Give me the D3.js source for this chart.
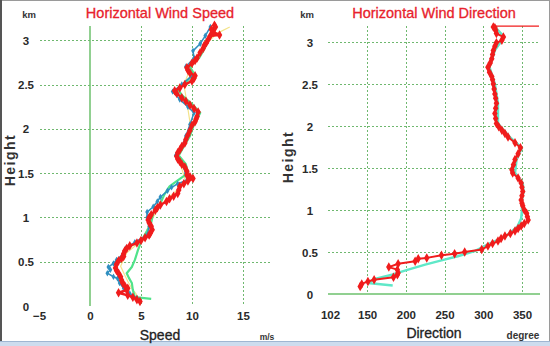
<!DOCTYPE html>
<html><head><meta charset="utf-8">
<script src="https://cdn.jsdelivr.net/npm/d3@7"></script>
<style>
html,body{margin:0;padding:0;background:#fff;}
svg{display:block;font-family:Arial,"Liberation Sans",sans-serif;}
</style></head>
<body>
<svg id="c" width="550" height="346"></svg>
<script>
// ---------- data ----------
const heightTicks = [0, 0.5, 1, 1.5, 2, 2.5, 3];
const speedTicks = [-5, 0, 5, 10, 15];
const dirTicks = [102, 150, 200, 250, 300, 350];

// Speed panel series: [height km, speed m/s]
const speedRed = [[0.05,4.9],[0.07,4.6],[0.10,4.2],[0.12,3.7],[0.15,2.8],[0.18,3.6],[0.20,3.7],[0.23,3.4],[0.26,3.2],[0.29,3.1],[0.33,3.0],[0.37,2.8],[0.40,2.6],[0.43,2.5],[0.47,2.6],[0.51,2.8],[0.54,3.1],[0.56,3.3],[0.59,3.3],[0.62,3.4],[0.65,3.6],[0.68,3.9],[0.71,4.6],[0.74,5.0],[0.77,5.4],[0.80,5.8],[0.82,5.9],[0.86,6.1],[0.90,6.0],[0.94,5.8],[0.97,5.7],[1.00,5.8],[1.03,6.0],[1.08,6.4],[1.11,6.6],[1.14,6.9],[1.18,7.5],[1.21,7.8],[1.24,8.2],[1.27,8.6],[1.31,8.7],[1.35,8.8],[1.38,9.2],[1.41,9.6],[1.44,10.1],[1.46,9.8],[1.48,9.5],[1.52,9.5],[1.57,9.3],[1.60,9.0],[1.63,8.8],[1.66,8.6],[1.69,8.5],[1.73,8.6],[1.76,8.8],[1.80,9.0],[1.84,9.3],[1.88,9.4],[1.93,9.6],[1.98,9.8],[2.04,10.0],[2.08,10.3],[2.11,10.4],[2.14,10.5],[2.19,10.6],[2.23,10.2],[2.27,9.8],[2.31,9.4],[2.35,9.0],[2.40,8.5],[2.43,8.3],[2.46,8.8],[2.50,9.3],[2.54,10.0],[2.57,10.2],[2.60,10.3],[2.63,9.8],[2.66,9.6],[2.69,9.5],[2.74,10.0],[2.77,10.3],[2.80,10.5],[2.86,10.8],[2.91,11.1],[2.94,11.2],[2.97,11.4],[3.01,11.6],[3.05,11.8],[3.06,12.7],[3.09,12.1],[3.12,11.9],[3.15,12.3],[3.17,12.2]];
const speedBlue = [[0.09,4.6],[0.14,3.9],[0.20,3.3],[0.26,2.9],[0.31,2.7],[0.33,2.3],[0.37,1.7],[0.41,2.0],[0.44,1.8],[0.48,2.3],[0.52,2.6],[0.58,3.2],[0.65,3.5],[0.72,4.4],[0.80,5.6],[0.90,5.8],[1.00,5.6],[1.06,5.6],[1.12,6.2],[1.18,6.6],[1.23,6.9],[1.30,7.6],[1.34,8.0],[1.38,8.6],[1.42,9.5],[1.50,9.4],[1.60,9.0],[1.70,8.4],[1.80,9.0],[1.92,9.4],[2.05,9.8],[2.18,10.2],[2.25,9.6],[2.33,8.8],[2.42,8.1],[2.50,9.0],[2.60,10.0],[2.70,9.4],[2.80,10.2],[2.88,10.1],[2.96,10.8],[3.05,11.3],[3.15,11.8]];
const speedGreen = [[0.08,6.0],[0.10,4.4],[0.18,4.2],[0.26,4.1],[0.32,3.8],[0.37,3.6],[0.44,4.1],[0.52,4.4],[0.63,4.7],[0.75,5.1],[0.85,5.6],[0.94,6.0],[1.05,6.2],[1.16,6.9],[1.26,7.3],[1.35,7.8],[1.41,8.5],[1.50,9.6],[1.60,9.4],[1.70,8.7],[1.80,9.2],[1.92,9.8],[2.05,10.2],[2.18,10.8],[2.28,10.0],[2.38,9.0],[2.45,8.6],[2.55,9.6],[2.62,10.2],[2.70,9.8],[2.80,10.7],[2.90,11.2],[3.00,11.6],[3.08,11.9],[3.15,12.4]];
const speedYellow = [[0.08,4.8],[0.14,4.5],[0.20,4.1],[0.28,3.7],[0.35,3.4],[0.45,3.0],[0.60,3.6],[0.75,5.2],[0.95,5.9],[1.15,7.0],[1.40,9.4],[1.70,8.6],[2.00,9.9],[2.30,9.5],[2.50,9.2],[2.75,10.1],[2.95,11.3],[3.08,12.5],[3.15,13.7]];

// Direction panel series: [height km, direction deg]
const dirRed = [[0.09,141],[0.12,143],[0.15,151],[0.17,159],[0.20,184],[0.23,189],[0.25,190],[0.29,189],[0.32,178],[0.36,190],[0.39,212],[0.42,216],[0.43,227],[0.46,246],[0.48,263],[0.50,276],[0.53,298],[0.57,306],[0.60,312],[0.63,319],[0.66,323],[0.69,328],[0.72,335],[0.75,341],[0.78,345],[0.81,349],[0.84,353],[0.88,358],[0.92,357],[0.96,356],[1.00,353],[1.05,351],[1.08,350],[1.12,349],[1.17,350],[1.22,351],[1.27,350],[1.32,349],[1.38,345],[1.44,338],[1.48,337],[1.54,339],[1.60,341],[1.67,345],[1.74,348],[1.80,341],[1.87,332],[1.91,328],[1.95,324],[1.99,320],[2.03,317],[2.09,316],[2.15,315],[2.21,316],[2.27,317],[2.33,316],[2.38,315],[2.44,314],[2.50,313],[2.55,312],[2.59,311],[2.64,308],[2.70,306],[2.75,309],[2.80,311],[2.85,312],[2.90,313],[2.95,315],[2.99,317],[3.02,324],[3.06,326],[3.10,317],[3.14,316],[3.17,315],[3.18,313]];
const dirCyan = [[0.10,183],[0.13,151],[0.18,160],[0.23,182],[0.29,203],[0.35,225],[0.40,246],[0.45,267],[0.51,289],[0.59,306],[0.65,320],[0.71,332],[0.80,344],[0.90,349],[1.00,350],[1.12,350],[1.22,352],[1.32,351],[1.44,341],[1.60,343],[1.74,350],[1.87,334],[2.03,319],[2.27,319],[2.50,315],[2.70,308],[2.90,315],[3.06,327],[3.18,315]];
const dirTopLine = [[3.19,315],[3.19,372]];

// ---------- drawing ----------
const svg = d3.select("#c");
const gridColor = "#6fb86f";
const red = "#f01c1c";

// frame
svg.append("rect").attr("x",0.5).attr("y",0.5).attr("width",549).attr("height",345).attr("fill","#fff").attr("stroke","#9a9a9a");
svg.append("rect").attr("x",0).attr("y",0).attr("width",2).attr("height",346).attr("fill","#555");
svg.append("rect").attr("x",0).attr("y",341).attr("width",550).attr("height",5).attr("fill","#cddcee");
svg.append("line").attr("x1",0).attr("x2",550).attr("y1",341.5).attr("y2",341.5).attr("stroke","#9fb6d2");

function panel(opts){
  const g = svg.append("g");
  const x = d3.scaleLinear().domain(opts.xDomain).range(opts.xRange);
  const y = d3.scaleLinear().domain([0,3.2]).range(opts.yRange);
  opts.hGrid.forEach(h=>{
    g.append("line").attr("x1",opts.gridX[0]).attr("x2",opts.gridX[1]).attr("y1",Math.round(y(h))+0.5).attr("y2",Math.round(y(h))+0.5)
      .attr("stroke",gridColor).attr("stroke-width",1).attr("stroke-dasharray","2,2");
  });
  opts.vGrid.forEach(v=>{
    g.append("line").attr("x1",Math.round(x(v))+0.5).attr("x2",Math.round(x(v))+0.5).attr("y1",opts.gridY[0]).attr("y2",opts.gridY[1])
      .attr("stroke",gridColor).attr("stroke-width",1).attr("stroke-dasharray","2,2");
  });
  const ya = d3.axisLeft(y).tickValues(heightTicks).tickSize(0).tickFormat(d3.format("~g"));
  const yg = g.append("g").attr("transform",`translate(${opts.yLabelX},0)`).call(ya);
  yg.select(".domain").remove();
  yg.selectAll("text").attr("text-anchor","middle").attr("x",0).attr("dy","0.35em")
    .attr("font-size",11.5).attr("font-weight","bold").attr("fill","#2a2a2a").attr("font-family","Arial,'Liberation Sans',sans-serif");
  const xa = d3.axisBottom(x).tickValues(opts.xTicks).tickSize(0).tickFormat(d3.format("d"));
  const xg = g.append("g").attr("transform",`translate(0,${opts.xLabelY})`).call(xa);
  xg.select(".domain").remove();
  xg.selectAll("text").attr("dy","0").attr("y",0).attr("font-size",11.5).attr("font-weight","bold").attr("fill","#2a2a2a")
    .attr("font-family","Arial,'Liberation Sans',sans-serif");
  return {g,x,y};
}

// Left panel
const L = panel({xDomain:[-5,17.5], xRange:[39,268.5], yRange:[306,22.5],
  hGrid:[0.5,1,1.5,2,2.5,3], vGrid:[5,10,15], gridX:[40,270], gridY:[26,306],
  yLabelX:26, xLabelY:320, xTicks:speedTicks});
L.g.append("line").attr("x1",L.x(0)).attr("x2",L.x(0)).attr("y1",26).attr("y2",306).attr("stroke","#6cc06c").attr("stroke-width",1.5);

// Right panel
const R = panel({xDomain:[102,372], xRange:[330,539], yRange:[294,25.2],
  hGrid:[0.5,1,1.5,2,2.5,3], vGrid:[150,200,250,300,350], gridX:[328,538], gridY:[26,294],
  yLabelX:310, xLabelY:319, xTicks:dirTicks});
R.g.append("line").attr("x1",328).attr("x2",540).attr("y1",R.y(0)).attr("y2",R.y(0)).attr("stroke","#6cc06c").attr("stroke-width",1.5);

function series(P, data, color, w, marker, msize){
  const line = d3.line().x(d=>P.x(d[1])).y(d=>P.y(d[0]));
  P.g.append("path").datum(data).attr("d",line).attr("fill","none").attr("stroke",color).attr("stroke-width",w).attr("stroke-linejoin","round");
  if(marker){
    P.g.selectAll(null).data(data).enter().append("path")
      .attr("d",d3.symbol().type(d3.symbolDiamond).size(msize))
      .attr("transform",d=>`translate(${P.x(d[1])},${P.y(d[0])})`).attr("fill",color);
  }
}
series(L, speedYellow, "#f3e38a", 1.2, false);
series(L, speedGreen, "#4fe38a", 2.2, false);
series(L, speedBlue, "#2f8fc0", 1.5, true, 12);
series(L, speedRed, red, 2.5, true, 26);

series(R, dirCyan, "#5fe8c8", 2.5, false);
series(R, dirTopLine, red, 1.2, false);
series(R, dirRed, red, 2, true, 26);

function txt(x,y,s,size,weight,fill,anchor){
  return svg.append("text").attr("x",x).attr("y",y).text(s).attr("font-size",size).attr("font-weight",weight)
    .attr("fill",fill).attr("text-anchor",anchor||"middle").attr("font-family","Arial,'Liberation Sans',sans-serif");
}
txt(160,18,"Horizontal Wind Speed",14.5,"normal","#e8222c").attr("stroke","#e8222c").attr("stroke-width",0.3);
txt(434,18,"Horizontal Wind Direction",14.5,"normal","#e8222c").attr("stroke","#e8222c").attr("stroke-width",0.3);
txt(29,18,"km",9.5,"bold","#333");
txt(307,18,"km",9.5,"bold","#333");
txt(160,340,"Speed",14,"normal","#222").attr("stroke","#222").attr("stroke-width",0.3);
txt(434,338,"Direction",14,"normal","#222").attr("stroke","#222").attr("stroke-width",0.3);
txt(267,340,"m/s",8.5,"bold","#333");
txt(523,339,"degree",10,"bold","#333");
svg.append("text").attr("transform","translate(15,160) rotate(-90)").attr("text-anchor","middle").text("Height")
  .attr("font-size",14).attr("font-weight","bold").attr("letter-spacing",1.5).attr("fill","#333").attr("font-family","Arial,'Liberation Sans',sans-serif");
svg.append("text").attr("transform","translate(293,157) rotate(-90)").attr("text-anchor","middle").text("Height")
  .attr("font-size",14).attr("font-weight","bold").attr("letter-spacing",1.5).attr("fill","#333").attr("font-family","Arial,'Liberation Sans',sans-serif");
</script>
</body></html>
